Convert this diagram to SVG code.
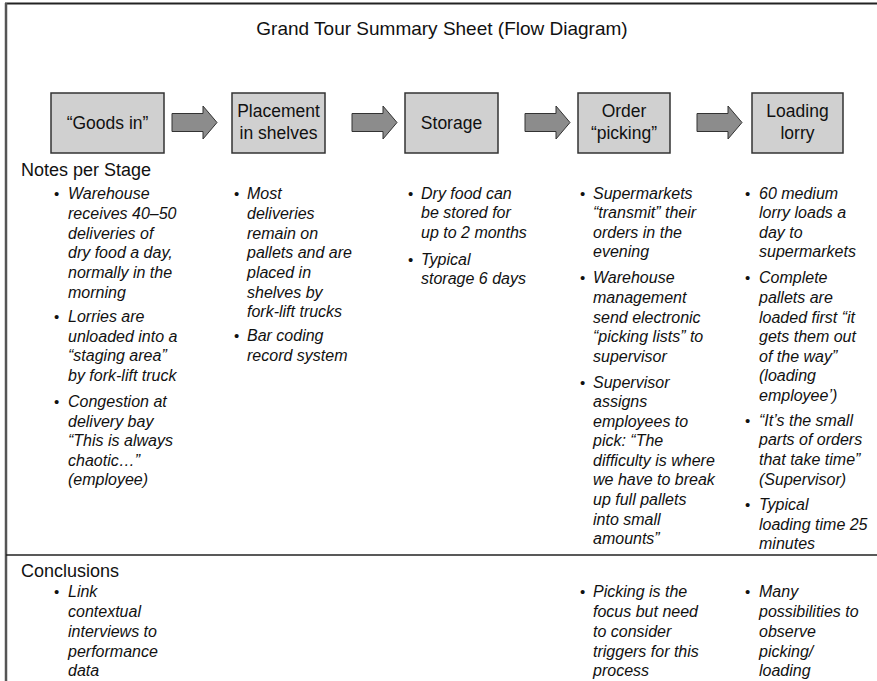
<svg xmlns="http://www.w3.org/2000/svg" width="877" height="681" viewBox="0 0 877 681">
<style>
text{font-family:"Liberation Sans",Arial,sans-serif;fill:#111}
.title{font-size:19px;text-anchor:middle}
.box{fill:#d0d0d0;stroke:#333;stroke-width:1.5}
.bl{font-size:17.5px;text-anchor:middle}
.arrow{fill:#8c8c8c;stroke:#333;stroke-width:1}
.head{font-size:18px}
.n{font-size:16px;font-style:italic}
.b{font-size:15px}
.frame{stroke:#222;fill:none}
</style>
<rect width="877" height="681" fill="#fff"/>
<g id="frame">
<line class="frame" x1="5" y1="3.5" x2="877" y2="3.5" stroke-width="2"/>
<line class="frame" x1="6" y1="3" x2="6" y2="681" stroke-width="2.5" style="stroke:#555"/>
<line class="frame" x1="6" y1="555" x2="877" y2="555" stroke-width="1.5"/>
</g>
<text class="title" x="442" y="35">Grand Tour Summary Sheet (Flow Diagram)</text>
<g id="goods-in"><rect class="box" x="51" y="93" width="113" height="60"/><text class="bl" x="107.5" y="129">“Goods in”</text></g>
<g id="placement"><rect class="box" x="232" y="93" width="93" height="60"/><text class="bl" x="278.5" y="116.5">Placement</text><text class="bl" x="278.5" y="138.5">in shelves</text></g>
<g id="storage"><rect class="box" x="405" y="93" width="93" height="60"/><text class="bl" x="451.5" y="129">Storage</text></g>
<g id="order-picking"><rect class="box" x="578" y="93" width="92" height="60"/><text class="bl" x="624" y="116.5">Order</text><text class="bl" x="624" y="138.5">“picking”</text></g>
<g id="loading-lorry"><rect class="box" x="752" y="93" width="91" height="60"/><text class="bl" x="797.5" y="116.5">Loading</text><text class="bl" x="797.5" y="138.5">lorry</text></g>
<g id="connectors">
<path class="arrow" d="M172,113.5H203V106L217,122.5L203,139V131.5H172Z"/>
<path class="arrow" d="M352,113.5H383V106L397,122.5L383,139V131.5H352Z"/>
<path class="arrow" d="M525,113.5H556V106L570,122.5L556,139V131.5H525Z"/>
<path class="arrow" d="M697,113.5H728V106L742,122.5L728,139V131.5H697Z"/>
</g>
<g id="notes">
<text class="head" x="21" y="176">Notes per Stage</text>
<g id="notes-goods-in">
<text class="b" x="54" y="199">•</text><text class="b" x="54" y="321.5">•</text><text class="b" x="54" y="406.5">•</text>
<text class="n" x="68" y="199">Warehouse</text>
<text class="n" x="68" y="219">receives 40–50</text>
<text class="n" x="68" y="238.5">deliveries of</text>
<text class="n" x="68" y="258">dry food a day,</text>
<text class="n" x="68" y="278">normally in the</text>
<text class="n" x="68" y="297.5">morning</text>
<text class="n" x="68" y="321.5">Lorries are</text>
<text class="n" x="68" y="341.5">unloaded into a</text>
<text class="n" x="68" y="361">“staging area”</text>
<text class="n" x="68" y="380.5">by fork-lift truck</text>
<text class="n" x="68" y="406.5">Congestion at</text>
<text class="n" x="68" y="426.5">delivery bay</text>
<text class="n" x="68" y="446">“This is always</text>
<text class="n" x="68" y="465.5">chaotic…”</text>
<text class="n" x="68" y="485">(employee)</text>
</g>
<g id="notes-placement">
<text class="b" x="234" y="199">•</text><text class="b" x="234" y="341">•</text>
<text class="n" x="247" y="199">Most</text>
<text class="n" x="247" y="219">deliveries</text>
<text class="n" x="247" y="238.5">remain on</text>
<text class="n" x="247" y="258">pallets and are</text>
<text class="n" x="247" y="278">placed in</text>
<text class="n" x="247" y="297.5">shelves by</text>
<text class="n" x="247" y="317">fork-lift trucks</text>
<text class="n" x="247" y="341">Bar coding</text>
<text class="n" x="247" y="361">record system</text>
</g>
<g id="notes-storage">
<text class="b" x="408" y="198.5">•</text><text class="b" x="408" y="264.5">•</text>
<text class="n" x="421" y="198.5">Dry food can</text>
<text class="n" x="421" y="218">be stored for</text>
<text class="n" x="421" y="237.5">up to 2 months</text>
<text class="n" x="421" y="264.5">Typical</text>
<text class="n" x="421" y="284">storage 6 days</text>
</g>
<g id="notes-picking">
<text class="b" x="580" y="198.5">•</text><text class="b" x="580" y="283">•</text><text class="b" x="580" y="387.5">•</text>
<text class="n" x="593" y="198.5">Supermarkets</text>
<text class="n" x="593" y="218">“transmit” their</text>
<text class="n" x="593" y="237.5">orders in the</text>
<text class="n" x="593" y="257">evening</text>
<text class="n" x="593" y="283">Warehouse</text>
<text class="n" x="593" y="303">management</text>
<text class="n" x="593" y="322.5">send electronic</text>
<text class="n" x="593" y="342">“picking lists” to</text>
<text class="n" x="593" y="361.5">supervisor</text>
<text class="n" x="593" y="387.5">Supervisor</text>
<text class="n" x="593" y="407">assigns</text>
<text class="n" x="593" y="426.5">employees to</text>
<text class="n" x="593" y="446">pick: “The</text>
<text class="n" x="593" y="465.5">difficulty is where</text>
<text class="n" x="593" y="485">we have to break</text>
<text class="n" x="593" y="505">up full pallets</text>
<text class="n" x="593" y="524.5">into small</text>
<text class="n" x="593" y="544">amounts”</text>
</g>
<g id="notes-loading">
<text class="b" x="745" y="198.5">•</text><text class="b" x="745" y="283">•</text><text class="b" x="745" y="425.5">•</text><text class="b" x="745" y="510">•</text>
<text class="n" x="759" y="198.5">60 medium</text>
<text class="n" x="759" y="218">lorry loads a</text>
<text class="n" x="759" y="237.5">day to</text>
<text class="n" x="759" y="257">supermarkets</text>
<text class="n" x="759" y="283">Complete</text>
<text class="n" x="759" y="303">pallets are</text>
<text class="n" x="759" y="322.5">loaded first “it</text>
<text class="n" x="759" y="342">gets them out</text>
<text class="n" x="759" y="361.5">of the way”</text>
<text class="n" x="759" y="381">(loading</text>
<text class="n" x="759" y="401">employee’)</text>
<text class="n" x="759" y="425.5">“It’s the small</text>
<text class="n" x="759" y="445">parts of orders</text>
<text class="n" x="759" y="465">that take time”</text>
<text class="n" x="759" y="484.5">(Supervisor)</text>
<text class="n" x="759" y="510">Typical</text>
<text class="n" x="759" y="530">loading time 25</text>
<text class="n" x="759" y="549">minutes</text>
</g>
</g>
<g id="conclusions">
<text class="head" x="21" y="577">Conclusions</text>
<text class="b" x="54" y="597">•</text><text class="b" x="580" y="597">•</text><text class="b" x="745" y="597">•</text>
<text class="n" x="68" y="597">Link</text>
<text class="n" x="68" y="617">contextual</text>
<text class="n" x="68" y="637">interviews to</text>
<text class="n" x="68" y="656.5">performance</text>
<text class="n" x="68" y="676">data</text>
<text class="n" x="593" y="597">Picking is the</text>
<text class="n" x="593" y="617">focus but need</text>
<text class="n" x="593" y="637">to consider</text>
<text class="n" x="593" y="656.5">triggers for this</text>
<text class="n" x="593" y="676">process</text>
<text class="n" x="759" y="597">Many</text>
<text class="n" x="759" y="617">possibilities to</text>
<text class="n" x="759" y="637">observe</text>
<text class="n" x="759" y="656.5">picking/</text>
<text class="n" x="759" y="676">loading</text>
</g>
</svg>
